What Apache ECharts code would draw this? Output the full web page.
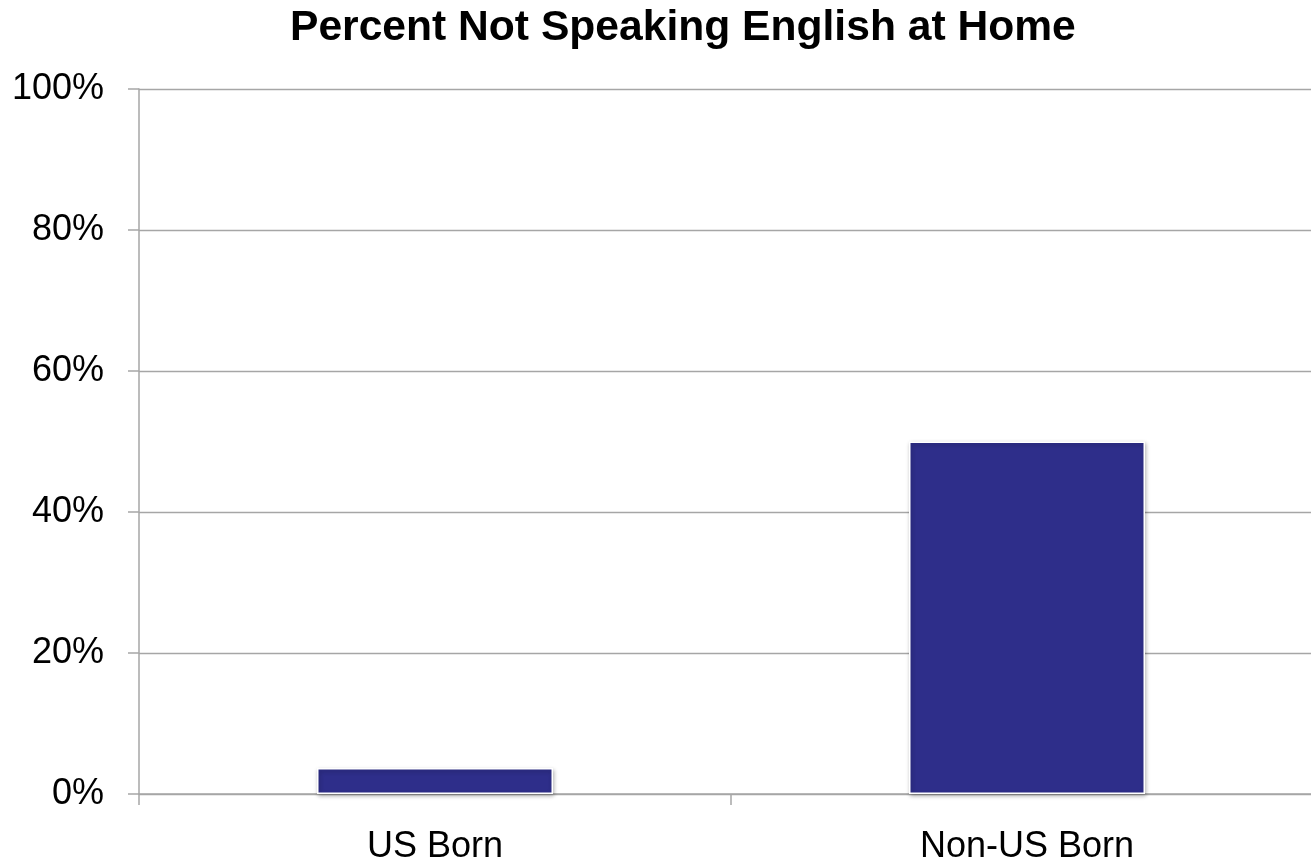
<!DOCTYPE html>
<html>
<head>
<meta charset="utf-8">
<script src="https://cdn.jsdelivr.net/npm/echarts@6/dist/echarts.min.js"></script>
<style>
  html, body { margin: 0; padding: 0; background: #fff; }
  #chart_container { width: 1311px; height: 863px; }
</style>
</head>
<body>
<div id="chart_container"></div>
<script>
"use strict";

// values
const categories = ['US Born', 'Non-US Born'];
const pctNotEnglish = [3.7, 50];
const yTicks = [0, 20, 40, 60, 80, 100];

const gridGray = '#a6a6a6';
const font = '"Liberation Sans", Arial, Helvetica, sans-serif';

let pageLoaded = () => {
    let chartDom = document.getElementById('chart_container');
    let myChart = echarts.init(chartDom, null, { renderer: 'canvas' });

    let optEchart = {
        animation: false,
        backgroundColor: '#ffffff',
        title: {
            text: 'Percent Not Speaking English at Home',
            left: 285,
            top: 2,
            textStyle: { fontFamily: font, fontSize: 42.6, fontWeight: 'bold', color: '#000' }
        },
        // plot area runs past the right edge of the picture
        grid: {
            left: 139, width: 1184, top: 89, bottom: 69,
            containLabel: false, outerBoundsMode: 'none'
        },
        xAxis: {
            type: 'category',
            data: categories,
            axisLine: { show: true, lineStyle: { color: gridGray, width: 1.5 } },
            axisTick: { show: true, length: 11, lineStyle: { color: gridGray, width: 1.5 } },
            axisLabel: { margin: 35, fontFamily: font, fontSize: 36, color: '#000' },
            splitLine: { show: false }
        },
        yAxis: {
            type: 'value',
            min: yTicks[0],
            max: yTicks[yTicks.length - 1],
            interval: 20,
            axisLine: { show: true, lineStyle: { color: gridGray, width: 1.5 } },
            axisTick: { show: true, length: 11, lineStyle: { color: gridGray, width: 1.5 } },
            axisLabel: {
                margin: 35,
                fontFamily: font,
                fontSize: 36,
                color: '#000',
                formatter: (v) => v + '%'
            },
            splitLine: { show: true, lineStyle: { color: gridGray, width: 1.3 } }
        },
        series: [{
            type: 'bar',
            data: pctNotEnglish,
            barWidth: 236,
            itemStyle: {
                color: '#2e2e8a',
                borderColor: '#ffffff',
                borderWidth: 1.5,
                shadowColor: 'rgba(0,0,0,0.3)',
                shadowBlur: 4,
                shadowOffsetX: 1,
                shadowOffsetY: 2
            }
        }]
    };

    optEchart && myChart.setOption(optEchart);
};

window.addEventListener('load', pageLoaded, false);
</script>
</body>
</html>
